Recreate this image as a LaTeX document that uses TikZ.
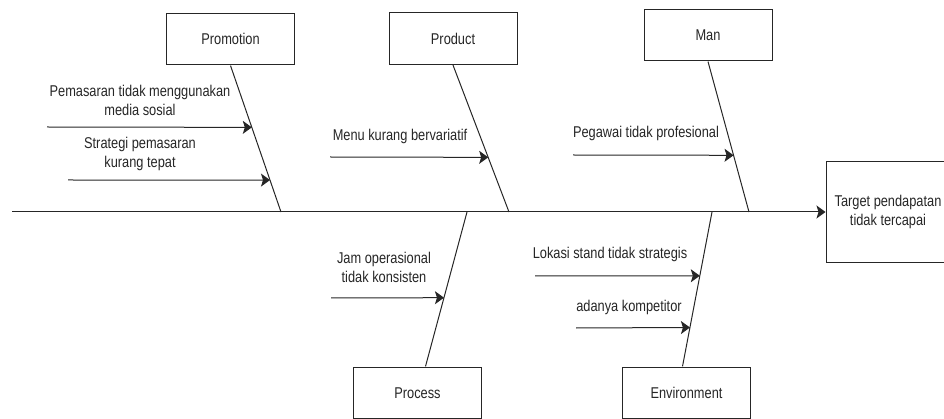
\documentclass[tikz,border=0pt]{standalone}
\usepackage{fontspec}
\setmainfont{Liberation Sans}
\usetikzlibrary{arrows.meta}

\begin{document}
\begin{tikzpicture}[x=1pt,y=-1pt,line width=1pt,color=black!85,tall/.style={yscale=1.22,transform shape},cat/.style={tall,draw,rectangle,minimum width=128pt,minimum height=42.6pt,font=\fontsize{12.8}{15.6}\selectfont},txt/.style={tall,align=center,font=\fontsize{12.8}{15.6}\selectfont},cause/.style={-{Stealth[length=9pt,width=13pt,inset=2pt]}}]
\clip (0,0) rectangle (944,419);
\node[cat] (promo) at (230.5,39) {Promotion};
\node[cat] (prod) at (453,38.5) {Product};
\node[cat] (man) at (708,35) {Man};
\node[cat] (proc) at (417.5,393) {Process};
\node[cat] (env) at (686.5,393) {Environment};
\node[cat,align=center,minimum width=124pt,minimum height=83.6pt] (target) at (888,212) {Target pendapatan\\tidak tercapai};
\coordinate (tail) at (12,212);
\coordinate (j1) at (281,212);
\coordinate (j2) at (509,212);
\coordinate (j3) at (749,212);
\coordinate (j4) at (467,212);
\coordinate (j5) at (712,212);
\draw[cause] (tail) -- (target);
\draw (promo.south) -- coordinate[pos=0.422] (m1) coordinate[pos=0.782] (m2) (j1);
\draw (prod.south) -- coordinate[pos=0.628] (m3) (j2);
\draw (man.south) -- coordinate[pos=0.623] (m4) (j3);
\draw (j4) -- coordinate[pos=0.555] (m5) ([xshift=8pt]proc.north);
\draw (j5) -- coordinate[pos=0.413] (m6) coordinate[pos=0.748] (m7) ([xshift=-4pt]env.north);
\coordinate (s1) at (47,127);
\coordinate (s2) at (68,180);
\coordinate (s3) at (330,157);
\coordinate (s4) at (573,155);
\coordinate (s5) at (331,298);
\coordinate (s6) at (535,276);
\coordinate (s7) at (576,328);
\draw[cause] (s1) -- (m1);
\draw[cause] (s2) -- (m2);
\draw[cause] (s3) -- (m3);
\draw[cause] (s4) -- (m4);
\draw[cause] (s5) -- (m5);
\draw[cause] (s6) -- (m6);
\draw[cause] (s7) -- (m7);
\node[txt] (t1) at (140,100) {Pemasaran tidak menggunakan\\media sosial};
\node[txt] (t2) at (140,153.5) {Strategi pemasaran\\kurang tepat};
\node[txt] (t3) at (400,136) {Menu kurang bervariatif};
\node[txt] (t4) at (646,133) {Pegawai tidak profesional};
\node[txt] (t5) at (384,267.5) {Jam operasional\\tidak konsisten};
\node[txt] (t6) at (610,254) {Lokasi stand tidak strategis};
\node[txt] (t7) at (629,307) {adanya kompetitor};
\end{tikzpicture}
\end{document}
